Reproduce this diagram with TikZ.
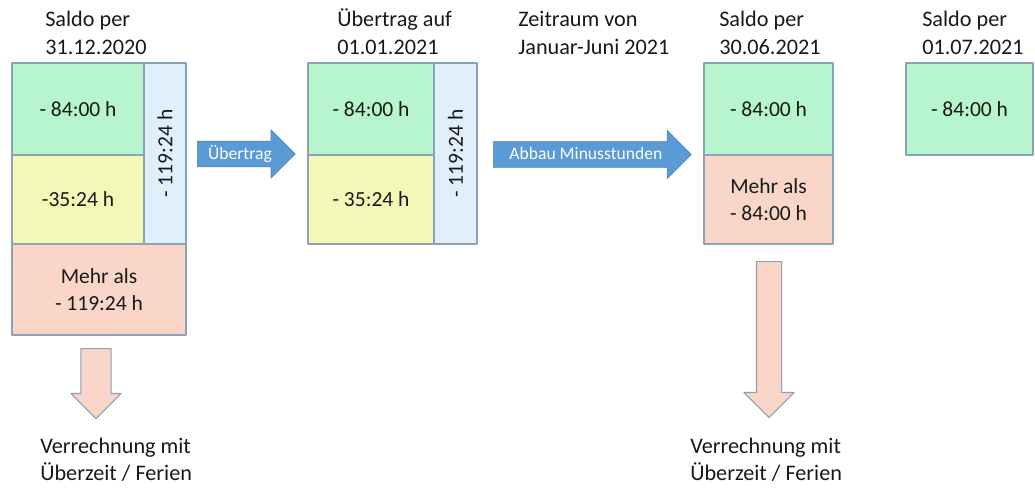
\documentclass[tikz,border=0pt]{standalone}
\usepackage{fontspec}
\setmainfont{Carlito}
\usetikzlibrary{shapes.arrows}
\definecolor{boxgreen}{RGB}{182,245,206}
\definecolor{boxyellow}{RGB}{243,248,182}
\definecolor{boxred}{RGB}{250,214,200}
\definecolor{boxblue}{RGB}{224,239,252}
\definecolor{boxline}{RGB}{140,162,182}
\definecolor{arrblue}{RGB}{91,155,213}
\definecolor{txt}{RGB}{25,25,25}
\def\topstrut{\rule{0pt}{15.5pt}}
\tikzset{
  cell/.style={draw=boxline, line width=0.8pt, inner sep=0pt, align=center,
    text=txt, font=\fontsize{15.3}{19.3}\selectfont},
  headtext/.style={anchor=north west, inner sep=0pt, align=left, text=txt,
    font=\fontsize{15.8}{19.6}\selectfont},
  flowarrow/.style={single arrow, fill=arrblue, draw=arrblue!85!black, line width=0.4pt,
    text=white, font=\fontsize{12.5}{15}\selectfont, single arrow head extend=0.2875cm,
    inner xsep=2pt, inner ysep=0pt, text height=12.8pt, text depth=5pt, anchor=tail},
  downarrow/.style={single arrow, fill=boxred, draw=boxline, line width=0.8pt,
    rotate=-90, inner xsep=0pt, anchor=tail}
}
\begin{document}
\begin{tikzpicture}[x=0.025cm,y=-0.025cm, line join=round]
  \useasboundingbox (0,0) rectangle (1035,488);
  % titles
  \foreach \x/\t [count=\i] in {45/{Saldo per\\31.12.2020}, 337/{Übertrag auf\\01.01.2021},
      518/{Zeitraum von\\Januar-Juni 2021}, 719/{Saldo per\\30.06.2021}, 922/{Saldo per\\01.07.2021}}
    \node[headtext] (t\i) at (\x,4.5) {\topstrut\t};
  % Saldo 31.12.2020
  \node[cell, fill=boxgreen, minimum width=3.3cm, minimum height=2.3cm] (g1) at (78,109) {- 84:00 h};
  \node[cell, fill=boxyellow, minimum width=3.3cm, minimum height=2.225cm] (y1) at (78,199.5) {-35:24 h};
  \node[cell, fill=boxblue, rotate=90, minimum width=4.525cm, minimum height=1.05cm] (b1) at (165,153.5) {- 119:24 h};
  \node[cell, fill=boxred, minimum width=4.35cm, minimum height=2.275cm] (p1) at (99,289.5) {Mehr als\\- 119:24 h};
  % Uebertrag 01.01.2021
  \node[cell, fill=boxgreen, minimum width=3.15cm, minimum height=2.3cm] (g2) at (371,109) {- 84:00 h};
  \node[cell, fill=boxyellow, minimum width=3.15cm, minimum height=2.225cm] (y2) at (371,199.5) {- 35:24 h};
  \node[cell, fill=boxblue, rotate=90, minimum width=4.525cm, minimum height=1.075cm] (b2) at (455.5,153.5) {- 119:24 h};
  % Saldo 30.06.2021
  \node[cell, fill=boxgreen, minimum width=3.225cm, minimum height=2.3cm] (g3) at (768.5,109) {- 84:00 h};
  \node[cell, fill=boxred, minimum width=3.225cm, minimum height=2.225cm] (p3) at (768.5,199.5) {Mehr als\\- 84:00 h};
  % Saldo 01.07.2021
  \node[cell, fill=boxgreen, minimum width=3.175cm, minimum height=2.3cm] (g4) at (969.5,109) {- 84:00 h};
  % arrows
  \node[flowarrow, minimum height=2.45cm] (a1) at (197,154) {Übertrag};
  \node[flowarrow, minimum height=4.95cm] (a2) at (493,154.5) {Abbau Minusstunden};
  \node[downarrow, inner ysep=0.3625cm, single arrow head extend=0.25cm, minimum height=1.75cm] (d1) at (96,348) {};
  \node[downarrow, inner ysep=0.3cm, single arrow head extend=0.3125cm, minimum height=3.9cm] (d3) at (769,261) {};
  \node[headtext] (v1) at (40,431) {\topstrut Verrechnung mit\\Überzeit / Ferien};
  \node[headtext] (v3) at (690,431) {\topstrut Verrechnung mit\\Überzeit / Ferien};
\end{tikzpicture}
\end{document}
